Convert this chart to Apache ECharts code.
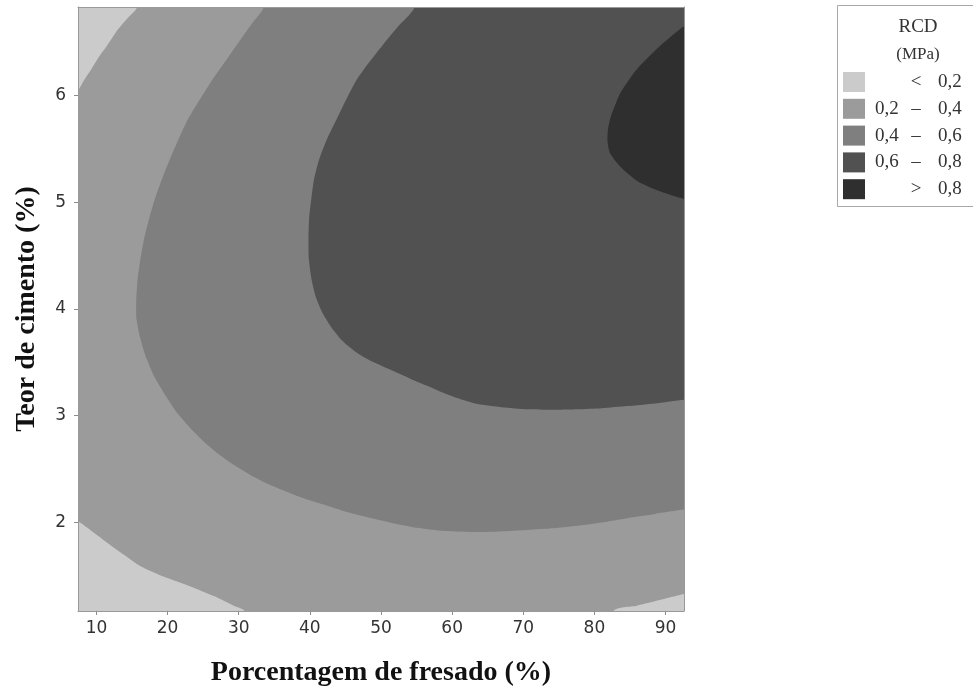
<!DOCTYPE html>
<html>
<head>
<meta charset="UTF-8">
<title>RCD contour</title>
<script src="https://cdn.jsdelivr.net/npm/echarts@6/dist/echarts.min.js"></script>
<style>
	html, body { margin: 0; padding: 0; background: #fff; }
	#chart { width: 973px; height: 691px; }
</style>
</head>
<body>
<div id="chart"></div>
<script>
// axis ranges and ticks
var xRange = [7.4, 92.6];
var yRange = [1.17, 6.83];
var xTicks = [10, 20, 30, 40, 50, 60, 70, 80, 90];
var yTicks = [2, 3, 4, 5, 6];

// contour lines, [fresado %, cimento %]
var c02TopLeft = [[15.7,6.83],[14.3,6.72],[12.9,6.61],[11.5,6.47],[10.3,6.36],[9.2,6.24],[8.2,6.14],[7.4,6.05]];
var c02BottomLeft = [[7.4,2.01],[9.5,1.91],[11.5,1.81],[13.8,1.70],[16.2,1.59],[19.5,1.49],[23.2,1.40],[26.5,1.31],[29.3,1.22],[30.8,1.17]];
var c02BottomRight = [[82.7,1.17],[86,1.22],[89,1.27],[92.6,1.33]];
var c04 = [[33.5,6.83],[31.8,6.67],[30.0,6.5],[28.1,6.32],[26.2,6.14],[24.5,5.96],[22.8,5.77],[21.5,5.585],[20.3,5.40],[19.2,5.215],[18.2,5.03],[17.4,4.845],
	[16.7,4.66],[16.2,4.475],[15.8,4.29],[15.6,4.1],[15.6,3.92],[16.1,3.74],[16.9,3.56],[18.1,3.37],[19.7,3.19],[21.3,3.03],[23.1,2.89],[25.2,2.75],
	[27.4,2.63],[29.4,2.535],[31.5,2.45],[33.8,2.37],[36.3,2.30],[39,2.23],[41.8,2.17],[44.6,2.11],[47.4,2.06],[51.2,2.0],[55,1.95],[58.9,1.92],
	[63.5,1.91],[68.2,1.92],[73,1.94],[77.6,1.97],[81,2.0],[84.6,2.04],[88.5,2.08],[92.6,2.12]];
var c06 = [[54.7,6.83],[52.3,6.64],[50.2,6.47],[48.2,6.3],[46.5,6.14],[45,5.95],[43.7,5.77],[42.4,5.59],[41.3,5.40],[40.6,5.22],[40.2,5.03],[39.9,4.85],
	[39.8,4.66],[39.85,4.47],[40.2,4.29],[40.8,4.12],[41.8,3.96],[43.1,3.82],[44.6,3.70],[46.4,3.60],[48.4,3.52],[51.2,3.435],[54.2,3.345],[56.5,3.28],
	[58.9,3.21],[61.2,3.155],[63.6,3.11],[67,3.08],[70.6,3.06],[74,3.055],[77.6,3.06],[81,3.07],[84.6,3.09],[88.5,3.115],[92.6,3.15]];
var c08 = [[92.6,6.65],[89.3,6.47],[86,6.25],[83.7,6.03],[82.3,5.8],[81.9,5.68],[81.85,5.57],[82.2,5.46],[83.7,5.33],[86,5.2],[89.3,5.1],[92.6,5.03]];

// legend
var levelColors = ['#cbcbcb', '#9b9b9b', '#7f7f7f', '#515151', '#2f2f2f'];
var levelLabels = [['', '<', '0,2'], ['0,2', '–', '0,4'], ['0,4', '–', '0,6'], ['0,6', '–', '0,8'], ['', '>', '0,8']];

var chart = echarts.init(document.getElementById('chart'));

// polygon through the axes, corner points pushed outside the grid (clipped)
function region(name, pts, color) {
	return {
		type: 'custom',
		name: name,
		clip: true,
		silent: true,
		data: [[0, 0]],
		renderItem: function (params, api) {
			return {
				type: 'polygon',
				shape: { points: pts.map(function (p) { return api.coord(p); }), smooth: 0.2 },
				style: { fill: color }
			};
		}
	};
}

var lo = 0.8; // how far past the frame the closing points go
function topToRight(c) {
	return [[c[0][0], yRange[1] + lo]].concat(c, [[xRange[1] + lo, c[c.length - 1][1]], [xRange[1] + lo, yRange[1] + lo]]);
}
var pTopLeft = [[c02TopLeft[0][0], yRange[1] + lo]].concat(c02TopLeft, [[xRange[0] - lo, c02TopLeft[c02TopLeft.length - 1][1]], [xRange[0] - lo, yRange[1] + lo]]);
var pBottomLeft = [[xRange[0] - lo, c02BottomLeft[0][1]]].concat(c02BottomLeft, [[c02BottomLeft[c02BottomLeft.length - 1][0], yRange[0] - lo], [xRange[0] - lo, yRange[0] - lo]]);
var pBottomRight = [[c02BottomRight[0][0], yRange[0] - lo]].concat(c02BottomRight, [[xRange[1] + lo, c02BottomRight[c02BottomRight.length - 1][1]], [xRange[1] + lo, yRange[0] - lo]]);
var p04 = topToRight(c04);
var p06 = topToRight(c06);
var p08 = [[xRange[1] + lo, c08[0][1]]].concat(c08, [[xRange[1] + lo, c08[c08.length - 1][1]]]);

var tickStyle = { show: true, inside: false, length: 4, lineStyle: { color: '#8c8c8c', width: 1 } };
var labelFont = { color: '#333', fontFamily: 'DejaVu Sans', fontSize: 17 };

var graphics = [
	{ type: 'text', x: 381, y: 673, style: { text: 'Porcentagem de fresado (%)', font: 'bold 28px "Liberation Serif"', fill: '#111', align: 'center', verticalAlign: 'middle' } },
	{ type: 'text', x: 27, y: 309, rotation: Math.PI / 2, style: { text: 'Teor de cimento (%)', font: 'bold 28px "Liberation Serif"', fill: '#111', align: 'center', verticalAlign: 'middle' } },
	{ type: 'rect', shape: { x: 837.5, y: 5.5, width: 150, height: 201 }, style: { fill: '#fff', stroke: '#a8a8a8', lineWidth: 1 } },
	{ type: 'text', x: 918, y: 27, style: { text: 'RCD', font: '19px "Liberation Serif"', fill: '#333', align: 'center', verticalAlign: 'middle' } },
	{ type: 'text', x: 918, y: 55, style: { text: '(MPa)', font: '17px "Liberation Serif"', fill: '#333', align: 'center', verticalAlign: 'middle' } }
];
for (var i = 0; i < levelColors.length; i++) {
	var cy = 82 + i * 26.8;
	graphics.push({ type: 'rect', shape: { x: 843, y: cy - 10, width: 22, height: 20 }, style: { fill: levelColors[i] } });
	graphics.push({ type: 'text', x: 875, y: cy, style: { text: levelLabels[i][0], font: '19px "Liberation Serif"', fill: '#333', align: 'left', verticalAlign: 'middle' } });
	graphics.push({ type: 'text', x: 916, y: cy, style: { text: levelLabels[i][1], font: '19px "Liberation Serif"', fill: '#333', align: 'center', verticalAlign: 'middle' } });
	graphics.push({ type: 'text', x: 938, y: cy, style: { text: levelLabels[i][2], font: '19px "Liberation Serif"', fill: '#333', align: 'left', verticalAlign: 'middle' } });
}

var option = {
	animation: false,
	grid: { left: 78, right: 289, top: 7, bottom: 80, show: true, backgroundColor: levelColors[1], borderWidth: 0 },
	xAxis: [{
		type: 'value', min: xRange[0], max: xRange[1], z: 5,
		axisLine: { show: true, onZero: false, lineStyle: { color: '#999', width: 1 } },
		axisTick: Object.assign({ customValues: xTicks }, tickStyle),
		axisLabel: Object.assign({ customValues: xTicks, margin: 9 }, labelFont),
		splitLine: { show: false }
	}, {
		type: 'value', position: 'top', min: xRange[0], max: xRange[1], z: 5,
		axisLine: { show: true, onZero: false, lineStyle: { color: '#999', width: 1 } },
		axisTick: { show: false }, axisLabel: { show: false }, splitLine: { show: false }
	}],
	yAxis: [{
		type: 'value', min: yRange[0], max: yRange[1], z: 5,
		axisLine: { show: true, onZero: false, lineStyle: { color: '#999', width: 1 } },
		axisTick: Object.assign({ customValues: yTicks }, tickStyle),
		axisLabel: Object.assign({ customValues: yTicks, margin: 12 }, labelFont),
		splitLine: { show: false }
	}, {
		type: 'value', position: 'right', min: yRange[0], max: yRange[1], z: 5,
		axisLine: { show: true, onZero: false, lineStyle: { color: '#999', width: 1 } },
		axisTick: { show: false }, axisLabel: { show: false }, splitLine: { show: false }
	}],
	series: [
		region('<0,2 top', pTopLeft, levelColors[0]),
		region('<0,2 bottom', pBottomLeft, levelColors[0]),
		region('<0,2 right', pBottomRight, levelColors[0]),
		region('0,4-0,6', p04, levelColors[2]),
		region('0,6-0,8', p06, levelColors[3]),
		region('>0,8', p08, levelColors[4])
	],
	graphic: graphics
};
chart.setOption(option);
</script>
</body>
</html>
